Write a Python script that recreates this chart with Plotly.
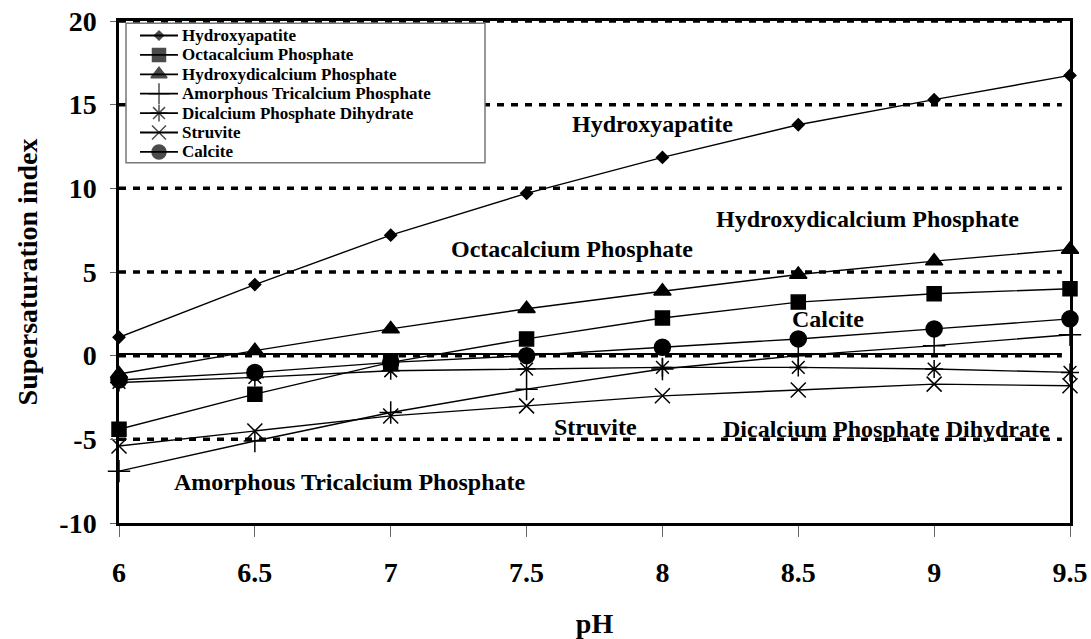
import plotly.graph_objects as go

# ---------------- data ----------------
ph = [6, 6.5, 7, 7.5, 8, 8.5, 9, 9.5]
ph_labels = ["6", "6.5", "7", "7.5", "8", "8.5", "9", "9.5"]

hydroxyapatite = [1.1, 4.25, 7.2, 9.7, 11.85, 13.8, 15.3, 16.75]
octacalcium = [-4.4, -2.3, -0.4, 1.0, 2.25, 3.2, 3.7, 4.0]
hydroxydicalcium = [-1.1, 0.3, 1.6, 2.8, 3.85, 4.85, 5.65, 6.35]
amorphous_tcp = [-6.9, -5.1, -3.4, -2.0, -0.8, 0.0, 0.6, 1.25]
dcpd = [-1.6, -1.3, -0.9, -0.8, -0.7, -0.7, -0.8, -1.0]
struvite = [-5.4, -4.5, -3.6, -3.0, -2.4, -2.05, -1.7, -1.8]
calcite = [-1.45, -1.0, -0.4, 0.0, 0.5, 1.0, 1.6, 2.2]

series_names = [
    "Hydroxyapatite",
    "Octacalcium Phosphate",
    "Hydroxydicalcium Phosphate",
    "Amorphous Tricalcium Phosphate",
    "Dicalcium Phosphate Dihydrate",
    "Struvite",
    "Calcite",
]
series_values = [hydroxyapatite, octacalcium, hydroxydicalcium, amorphous_tcp,
                 dcpd, struvite, calcite]

y_ticks = [-10, -5, 0, 5, 10, 15, 20]
y_tick_labels = ["-10", "-5", "0", "5", "10", "15", "20"]
reference_levels = [20, 15, 10, 5, 0, -5]

label_texts = ["Hydroxyapatite", "Hydroxydicalcium Phosphate", "Octacalcium Phosphate",
               "Calcite", "Struvite", "Dicalcium Phosphate Dihydrate",
               "Amorphous Tricalcium Phosphate"]
label_x = [7.965, 8.755, 7.667, 8.608, 7.752, 8.823, 6.849]
label_y = [13.85, 8.17, 6.38, 2.2, -4.28, -4.38, -7.53]

# ---------------- styles ----------------
FONT = "Liberation Serif"
marker_styles = [
    dict(symbol="diamond", size=9),
    dict(symbol="square", size=14),
    dict(symbol="triangle-up", size=15),
    dict(symbol="cross-thin-open", size=16),
    dict(symbol="asterisk-open", size=15),
    dict(symbol="x-thin-open", size=15),
    dict(symbol="circle", size=16),
]
legend_marker_sizes = [7, 13, 14, 15, 14, 14, 14]

fig = go.Figure()

for name, vals, ms in zip(series_names, series_values, marker_styles):
    fig.add_trace(go.Scatter(
        x=ph, y=vals, name=name, mode="lines+markers",
        line=dict(color="black", width=1.4),
        marker=dict(symbol=ms["symbol"], size=ms["size"], color="black",
                    line=dict(color="black", width=1.5)),
        cliponaxis=False, showlegend=False,
    ))

# ---------------- custom legend (pixel-like overlay axes) ----------------
leg_left, leg_right, leg_top, leg_bottom = 126, 485, 23.3, 162.7
row_y0, row_dy = 35.5, 19.4
sample_x0, sample_xm, sample_x1, text_x = 140, 159, 178, 180

for i, (name, ms) in enumerate(zip(series_names, marker_styles)):
    yy = row_y0 + i * row_dy
    fig.add_trace(go.Scatter(
        x=[sample_x0, sample_xm, sample_x1], y=[yy, yy, yy],
        xaxis="x2", yaxis="y2", mode="lines+markers",
        line=dict(color="black", width=1.8),
        marker=dict(symbol=ms["symbol"], size=[0, legend_marker_sizes[i], 0],
                    color="black", line=dict(color="black", width=1.5)),
        showlegend=False, hoverinfo="skip", cliponaxis=False,
    ))
    fig.add_annotation(x=text_x, y=yy, xref="x2", yref="y2", text=name,
                       showarrow=False, xanchor="left", yanchor="middle",
                       font=dict(family=FONT, size=17, color="black", weight="bold"))

shapes = []
for lv in reference_levels:
    shapes.append(dict(type="line", xref="x", yref="y", x0=6, x1=9.47, y0=lv, y1=lv,
                       line=dict(color="black", width=3.5, dash="7px,7px"), layer="below"))
shapes.append(dict(type="line", xref="x", yref="y", x0=6, x1=9.47, y0=0.1, y1=0.1,
                   line=dict(color="black", width=2.2), layer="below"))
shapes.append(dict(type="rect", xref="x2", yref="y2", x0=leg_left, x1=leg_right,
                   y0=leg_top, y1=leg_bottom, fillcolor="white",
                   line=dict(color="#777777", width=1.5), layer="below"))

for t, lx, ly in zip(label_texts, label_x, label_y):
    fig.add_annotation(x=lx, y=ly, xref="x", yref="y", text=t, showarrow=False,
                       xanchor="center", yanchor="middle",
                       font=dict(family=FONT, size=24, color="black", weight="bold"))

tickfont = dict(family=FONT, size=28, color="black", weight="bold")
titlefont = dict(family=FONT, size=28, color="black", weight="bold")

fig.update_layout(
    width=1091, height=639,
    margin=dict(l=119, r=21, t=21, b=116),
    paper_bgcolor="white", plot_bgcolor="white",
    showlegend=False,
    shapes=shapes,
    xaxis=dict(range=[6, 9.5], tickvals=ph, ticktext=ph_labels,
               ticks="outside", ticklen=11, tickwidth=1, tickcolor="#666666",
               showline=True, linewidth=2.5, linecolor="black", mirror=True,
               showgrid=False, zeroline=False, tickfont=tickfont,
               ticklabelstandoff=12, automargin=False,
               title=dict(text="pH", font=titlefont, standoff=30)),
    yaxis=dict(range=[-10, 20], tickvals=y_ticks, ticktext=y_tick_labels,
               ticks="outside", ticklen=6, tickwidth=1, tickcolor="#666666",
               showline=True, linewidth=2.5, linecolor="black", mirror=True,
               showgrid=False, zeroline=False, tickfont=tickfont,
               ticklabelstandoff=8, automargin=False,
               title=dict(text="Supersaturation index", font=titlefont, standoff=14)),
    xaxis2=dict(overlaying="x", anchor="y2", range=[119, 1070], visible=False,
                showgrid=False, zeroline=False),
    yaxis2=dict(overlaying="y", anchor="x2", range=[523, 21], visible=False,
                showgrid=False, zeroline=False),
)

fig.write_html("out.html", config={"displayModeBar": False},
               post_script="document.body.style.margin='0';document.body.style.overflow='hidden';")
